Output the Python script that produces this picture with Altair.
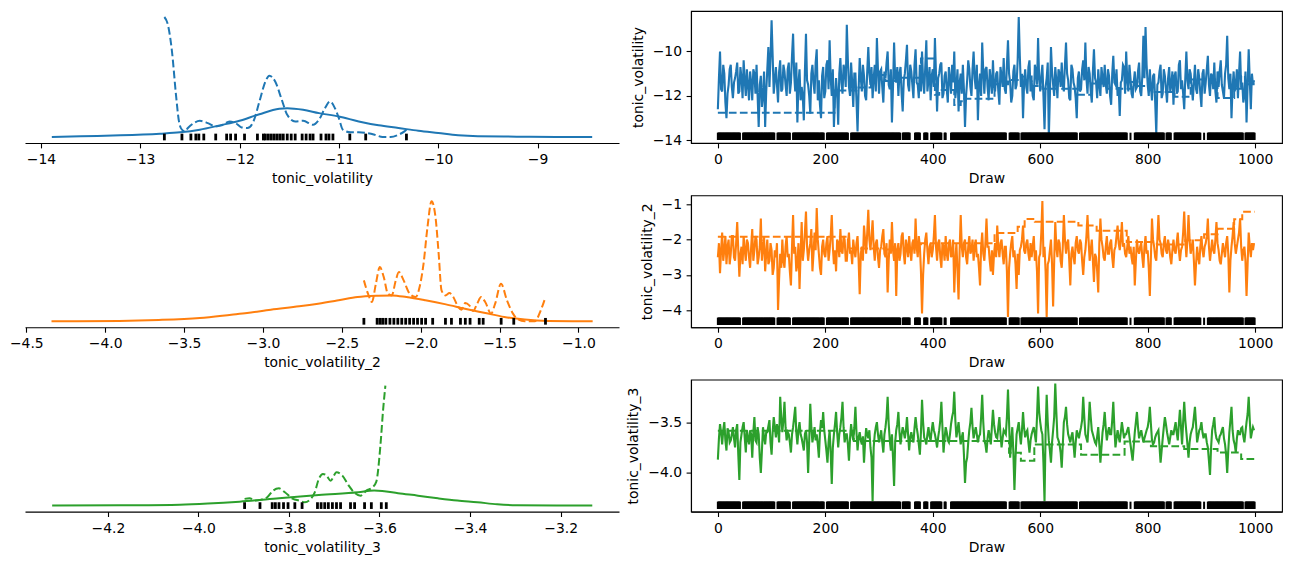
import altair as alt
import pandas as pd

FONT = "DejaVu Sans"
FONT_SIZE = 13.9
COLORS = ["#1f77b4", "#ff7f0e", "#2ca02c"]
VARS = ["tonic_volatility", "tonic_volatility_2", "tonic_volatility_3"]
N_DRAWS = 1000

# ---- chain 0 (solid) trace values at draws 0, 4, 8, ... 996
TRACE_A_EVEN = [
    -12.6, -10.0, -11.8, -11.0, -13.0, -11.5, -10.6, -12.1, -11.2, -10.5,
    -11.8, -11.2, -10.4, -12.0, -11.5, -10.9, -12.2, -11.0, -10.6, -13.4,
    -11.1, -12.0, -13.4, -10.8, -11.6, -8.6, -11.9, -10.7, -12.3, -10.4,
    -11.7, -10.9, -12.0, -10.5, -11.4, -9.2, -11.8, -13.2, -10.8, -11.6,
    -13.1, -9.2, -11.5, -12.8, -10.6, -11.9, -9.9, -11.3, -13.0, -10.7,
    -11.8, -10.4, -9.5, -12.0, -13.4, -11.2, -13.3, -10.3, -11.9, -10.9,
    -8.8, -11.6, -10.5, -12.5, -11.0, -13.6, -10.3, -11.8, -11.1, -12.2,
    -9.8, -11.5, -12.1, -10.6, -9.4, -11.9, -10.8, -12.3, -11.2, -10.0,
    -11.7, -13.2, -9.6, -11.4, -12.0, -10.7, -12.7, -11.0, -9.7, -11.8,
    -10.9, -12.1, -9.9, -11.5, -10.6, -10.0, -11.9, -9.5, -11.3, -12.2,
    -10.8, -9.4, -12.7, -11.0, -10.5, -11.9, -10.9, -12.3, -11.2, -10.6,
    -10.0, -11.6, -12.7, -11.0, -10.6, -13.4, -11.3, -10.8, -12.0, -10.0,
    -11.7, -13.1, -11.0, -9.6, -11.9, -10.7, -12.2, -11.3, -10.4, -11.8,
    -10.9, -12.4, -11.1, -10.3, -11.9, -9.5, -11.4, -12.0, -10.6, -11.5,
    -8.45, -11.6, -13.0, -10.8, -11.9, -10.4, -11.3, -12.2, -10.9, -9.4,
    -11.8, -10.6, -13.5, -11.2, -13.85, -9.8, -11.5, -10.7, -12.1, -11.0,
    -10.5, -11.8, -9.6, -11.3, -12.2, -10.8, -11.6, -13.0, -10.9, -11.7,
    -10.4, -9.6, -11.9, -11.0, -12.3, -9.9, -11.4, -10.8, -12.0, -11.2,
    -10.6, -11.9, -11.1, -12.4, -10.2, -11.5, -12.0, -12.9, -11.3, -10.7,
    -10.0, -11.8, -11.2, -12.1, -10.9, -11.6, -10.5, -12.0, -9.3, -8.9,
    -11.5, -10.8, -12.2, -11.0, -13.7, -11.4, -10.6, -11.9, -11.1, -12.3,
    -10.7, -11.5, -12.4, -10.9, -11.8, -10.4, -11.3, -12.6, -10.0, -11.7,
    -11.0, -12.2, -10.6, -11.9, -11.2, -12.5, -10.8, -11.4, -10.2, -12.0,
    -11.1, -10.5, -12.3, -11.6, -10.4, -11.8, -11.0, -9.3, -11.7, -13.0,
    -10.9, -11.5, -12.1, -10.0, -11.4, -12.0, -13.2, -9.9, -12.6, -11.5,
]
# chain 0 at draws 2, 6, 10, ... 998
TRACE_A_ODD = [
    -11.2, -11.7, -10.6, -12.3, -11.9, -10.8, -11.6, -11.4, -10.9, -11.9,
    -10.7, -12.1, -11.3, -10.8, -12.2, -11.4, -10.8, -11.9, -12.0, -11.5,
    -12.5, -10.9, -11.8, -9.8, -10.3, -10.2, -11.3, -11.5, -10.9, -11.8,
    -10.6, -11.5, -10.8, -11.9, -10.2, -11.0, -10.5, -11.4, -12.2, -12.0,
    -10.9, -11.3, -12.0, -11.0, -11.4, -10.5, -12.2, -12.4, -11.1, -12.1,
    -10.6, -11.7, -11.2, -10.8, -12.1, -11.9, -11.0, -11.4, -10.6, -11.6,
    -10.4, -12.0, -11.4, -11.0, -12.2, -11.7, -11.2, -10.6, -12.0, -10.9,
    -11.0, -10.7, -11.2, -11.8, -10.8, -10.9, -11.6, -10.9, -10.5, -11.5,
    -10.8, -11.6, -11.2, -10.7, -11.0, -11.9, -11.3, -10.4, -11.5, -10.6,
    -11.5, -10.6, -11.4, -12.1, -11.8, -11.3, -10.7, -11.8, -10.7, -11.1,
    -11.6, -11.0, -11.2, -10.6, -12.1, -11.1, -11.7, -10.7, -11.9, -11.4,
    -12.1, -10.8, -11.4, -11.9, -11.7, -12.0, -10.4, -11.6, -10.8, -11.2,
    -10.6, -11.5, -12.0, -10.9, -10.8, -11.6, -10.8, -11.9, -11.6, -11.0,
    -11.8, -10.7, -11.6, -11.7, -10.6, -11.0, -12.3, -10.9, -11.7, -10.4,
    -10.2, -11.0, -11.4, -11.6, -10.7, -11.8, -12.0, -10.6, -11.5, -11.2,
    -11.1, -12.0, -11.6, -10.5, -12.0, -10.9, -12.0, -11.3, -10.8, -11.6,
    -11.5, -10.6, -11.0, -12.1, -10.6, -11.4, -12.1, -11.2, -11.8, -10.8,
    -11.3, -11.2, -10.7, -11.8, -10.9, -11.2, -12.1, -11.5, -10.7, -11.6,
    -11.5, -10.8, -12.0, -11.0, -11.4, -10.8, -11.6, -11.4, -10.6, -11.9,
    -11.3, -10.6, -11.9, -11.4, -11.7, -10.9, -11.8, -11.1, -11.2, -10.6,
    -12.0, -11.6, -11.1, -12.3, -11.5, -10.9, -12.1, -10.8, -11.7, -11.2,
    -11.8, -10.9, -11.1, -11.9, -10.6, -11.7, -11.9, -11.2, -11.3, -10.8,
    -11.6, -11.4, -11.7, -10.8, -11.9, -11.0, -11.9, -10.8, -11.5, -11.0,
    -11.7, -11.8, -10.9, -10.9, -11.5, -12.1, -10.6, -11.2, -11.0, -11.6,
    -11.8, -10.8, -11.0, -11.6, -12.3, -10.9, -11.5, -11.3, -11.0, -11.3,
]
TRACE_B_EVEN = [
    -2.5, -2.95, -1.8, -2.3, -2.7, -2.0, -2.4, -1.9, -2.6, -1.5,
    -3.05, -2.2, -1.9, -2.6, -2.1, -2.8, -1.7, -2.3, -2.0, -2.5,
    -1.4, -2.2, -2.9, -2.0, -2.6, -2.3, -2.8, -2.5, -4.0, -2.4,
    -2.0, -2.8, -1.9, -2.4, -3.3, -1.3, -2.2, -2.7, -3.4, -1.5,
    -2.3, -1.2, -2.6, -2.1, -2.9, -1.8, -1.1, -2.4, -3.0, -2.0,
    -2.5, -1.9, -2.3, -1.3, -2.7, -2.9, -2.1, -1.7, -2.4, -2.0,
    -2.6, -1.8, -2.3, -2.0, -2.5, -1.9, -3.55, -2.2, -1.6, -2.4,
    -1.15, -2.3, -1.45, -2.6, -2.0, -2.8, -2.2, -1.7, -2.5, -3.5,
    -2.0, -1.5, -2.6, -3.6, -2.1, -2.4, -1.8, -2.7, -2.2, -1.9,
    -2.6, -2.0, -1.4, -2.5, -2.2, -4.1, -2.4, -1.8, -2.7, -2.1,
    -2.3, -1.3, -2.6, -2.0, -2.8, -2.2, -1.9, -2.6, -2.0, -2.4,
    -3.5, -2.1, -3.7, -1.3, -2.5, -2.0, -2.7, -1.9, -2.3, -2.6,
    -2.0, -2.4, -3.3, -1.8, -2.6, -1.4, -2.2, -2.9, -3.0, -2.1,
    -1.6, -2.5, -2.0, -2.7, -2.2, -4.2, -2.4, -1.9, -2.3, -3.4,
    -3.0, -2.2, -1.6, -2.4, -2.0, -2.6, -2.5, -1.9, -2.3, -4.1,
    -2.4, -0.9, -2.2, -4.2, -2.6, -2.0, -3.9, -1.5, -2.5, -2.1,
    -2.8, -1.3, -2.4, -2.0, -3.3, -2.2, -2.7, -1.9, -2.4, -2.1,
    -3.0, -2.3, -1.3, -2.6, -2.0, -3.2, -2.5, -3.5, -1.4, -2.2,
    -2.6, -1.9, -2.4, -2.0, -2.8, -2.2, -1.6, -2.3, -1.5, -2.1,
    -2.5, -1.9, -2.2, -2.7, -3.3, -2.0, -2.4, -2.1, -2.8, -1.9,
    -2.3, -3.6, -1.4, -2.2, -2.6, -1.3, -2.1, -2.5, -1.9, -2.4,
    -2.2, -2.7, -2.0, -2.4, -1.8, -2.6, -2.2, -1.2, -2.5, -1.3,
    -2.4, -2.0, -3.3, -2.2, -2.7, -1.9, -2.5, -2.1, -1.4, -2.6,
    -2.0, -2.4, -1.5, -2.3, -2.7, -2.1, -2.5, -1.9, -3.5, -2.2,
    -1.5, -2.4, -2.0, -1.4, -2.6, -2.2, -3.6, -1.8, -2.5, -2.3,
]
TRACE_B_ODD = [
    -2.1, -2.3, -2.6, -1.9, -2.2, -2.7, -1.9, -2.5, -2.1, -2.3,
    -2.4, -2.7, -2.3, -2.0, -2.5, -2.2, -2.6, -1.9, -2.7, -2.2,
    -2.6, -1.9, -2.4, -2.7, -2.1, -3.0, -2.3, -2.1, -3.1, -2.8,
    -2.6, -2.2, -2.5, -2.9, -2.2, -2.4, -2.9, -2.1, -2.4, -2.6,
    -1.8, -2.2, -2.3, -1.7, -2.4, -2.3, -2.0, -2.8, -2.2, -2.4,
    -2.1, -2.6, -1.9, -2.2, -2.3, -2.0, -2.5, -2.3, -1.9, -2.6,
    -2.1, -2.4, -2.7, -2.3, -2.1, -2.6, -2.4, -2.6, -2.0, -1.8,
    -2.0, -1.9, -2.2, -2.1, -2.5, -2.3, -1.9, -2.4, -2.1, -2.6,
    -2.4, -2.3, -2.1, -2.3, -2.6, -1.9, -2.4, -2.0, -2.5, -2.3,
    -2.1, -2.4, -2.2, -1.9, -2.9, -3.0, -2.0, -2.3, -2.2, -2.5,
    -1.9, -2.2, -2.1, -2.5, -2.1, -2.6, -2.4, -2.1, -2.5, -2.0,
    -2.6, -2.9, -2.3, -2.2, -2.1, -2.5, -2.2, -2.4, -2.0, -2.2,
    -2.5, -2.8, -2.2, -2.4, -2.1, -2.2, -2.6, -2.3, -2.4, -2.5,
    -2.2, -2.1, -2.4, -2.2, -2.9, -2.8, -2.1, -2.5, -2.7, -2.4,
    -2.3, -2.0, -2.3, -2.1, -2.4, -2.1, -2.2, -2.6, -2.9, -2.5,
    -1.8, -2.5, -2.9, -2.7, -2.3, -2.7, -2.6, -2.2, -2.0, -2.6,
    -2.2, -2.0, -2.1, -2.6, -2.4, -2.5, -2.1, -2.3, -2.0, -2.6,
    -2.5, -1.9, -2.0, -2.3, -2.6, -2.4, -2.9, -2.1, -2.0, -2.5,
    -2.2, -2.4, -2.1, -2.5, -2.3, -1.9, -2.1, -2.0, -2.2, -2.4,
    -2.2, -2.4, -2.5, -2.2, -2.6, -2.3, -2.2, -2.5, -2.2, -2.4,
    -2.8, -2.5, -2.0, -2.5, -2.0, -2.0, -2.4, -2.1, -2.3, -2.0,
    -2.5, -2.3, -2.3, -2.1, -2.3, -2.3, -1.8, -2.0, -2.0, -2.0,
    -2.2, -2.6, -2.7, -2.5, -2.2, -2.3, -2.2, -1.9, -2.2, -2.3,
    -2.3, -2.0, -2.1, -2.6, -2.4, -2.3, -2.1, -2.4, -2.6, -1.9,
    -2.1, -2.2, -1.8, -2.2, -2.3, -2.6, -2.7, -2.2, -2.1, -2.1,
]
TRACE_C_EVEN = [
    -3.87, -3.52, -3.72, -3.50, -3.78, -3.60, -3.68, -3.55, -3.75, -3.52,
    -4.07, -3.62, -3.50, -3.80, -3.66, -3.58, -3.85, -3.45, -3.70, -3.62,
    -4.00, -3.55, -3.72, -3.60, -3.48, -3.82, -3.45, -3.65, -3.58, -3.25,
    -3.60, -3.30, -3.68, -3.62, -3.80, -3.55, -3.35, -3.72, -3.50, -3.66,
    -3.78, -3.58, -4.00, -3.32, -3.70, -3.55, -3.62, -3.85, -3.48, -3.40,
    -3.68, -3.90, -3.58, -4.11, -3.62, -3.40, -3.75, -3.55, -3.30, -3.70,
    -3.62, -3.88, -3.52, -3.68, -3.35, -3.78, -3.60, -3.72, -3.90, -3.56,
    -3.66, -3.75, -4.28, -3.62, -3.50, -3.70, -3.58, -3.80, -3.55, -3.25,
    -3.68, -3.62, -4.13, -3.58, -3.40, -3.72, -3.55, -3.66, -3.45, -3.78,
    -3.60, -3.70, -3.45, -3.62, -3.82, -3.28, -3.65, -3.72, -3.55, -3.68,
    -3.50, -3.62, -3.75, -3.58, -3.30, -3.80, -3.55, -3.68, -3.62, -3.45,
    -3.20, -3.65, -3.50, -3.72, -3.60, -4.10, -3.85, -3.58, -3.36, -3.66,
    -3.55, -3.70, -3.62, -3.23, -3.68, -3.80, -3.58, -3.72, -3.38, -3.60,
    -3.66, -3.45, -3.75, -3.58, -3.62, -3.18, -3.85, -3.55, -4.17, -3.62,
    -3.50, -3.72, -3.40, -3.65, -3.58, -3.80, -3.62, -3.55, -3.70, -3.15,
    -3.50, -3.62, -4.28, -3.23, -3.68, -3.90, -3.58, -3.12, -3.65, -3.72,
    -3.95, -3.50, -3.35, -3.62, -3.70, -3.60, -3.85, -3.58, -3.66, -3.55,
    -3.25, -3.62, -3.70, -3.30, -3.58, -3.66, -3.72, -3.55, -3.90, -3.60,
    -3.40, -3.68, -3.55, -3.62, -3.30, -3.75, -3.58, -3.70, -3.50, -3.66,
    -3.62, -3.55, -3.72, -3.88, -3.60, -3.40, -3.66, -3.58, -3.70, -3.62,
    -3.55, -3.35, -3.68, -3.70, -3.62, -3.58, -3.90, -3.66, -3.45, -3.60,
    -3.72, -3.58, -3.62, -3.50, -3.68, -3.38, -3.72, -3.30, -3.60, -3.85,
    -3.62, -3.55, -3.35, -3.70, -3.58, -3.50, -3.66, -3.62, -3.75, -4.02,
    -3.58, -3.45, -3.66, -3.70, -3.62, -3.55, -3.72, -4.00, -3.60, -3.35,
    -3.68, -3.80, -3.58, -3.62, -3.55, -3.70, -3.50, -3.25, -3.66, -3.55,
]
TRACE_C_ODD = [
    -3.66, -3.60, -3.58, -3.68, -3.56, -3.70, -3.62, -3.66, -3.58, -3.82,
    -3.70, -3.55, -3.65, -3.58, -3.72, -3.62, -3.60, -3.68, -3.55, -3.85,
    -3.78, -3.65, -3.60, -3.54, -3.70, -3.60, -3.55, -3.52, -3.70, -3.45,
    -3.48, -3.55, -3.60, -3.70, -3.62, -3.45, -3.60, -3.58, -3.62, -3.72,
    -3.62, -3.70, -3.68, -3.55, -3.62, -3.68, -3.72, -3.60, -3.56, -3.58,
    -3.78, -3.70, -3.80, -3.75, -3.52, -3.60, -3.62, -3.45, -3.55, -3.62,
    -3.72, -3.66, -3.62, -3.55, -3.60, -3.65, -3.68, -3.64, -3.70, -3.62,
    -3.58, -3.85, -3.75, -3.55, -3.62, -3.64, -3.70, -3.62, -3.45, -3.52,
    -3.78, -3.85, -3.70, -3.52, -3.60, -3.62, -3.60, -3.58, -3.62, -3.65,
    -3.66, -3.56, -3.55, -3.72, -3.60, -3.50, -3.68, -3.62, -3.64, -3.58,
    -3.58, -3.68, -3.65, -3.48, -3.55, -3.66, -3.60, -3.70, -3.52, -3.40,
    -3.48, -3.58, -3.62, -3.65, -3.82, -3.90, -3.70, -3.50, -3.54, -3.60,
    -3.62, -3.64, -3.45, -3.50, -3.72, -3.66, -3.64, -3.55, -3.52, -3.65,
    -3.55, -3.62, -3.66, -3.60, -3.45, -3.50, -3.70, -3.80, -3.85, -3.56,
    -3.62, -3.58, -3.56, -3.60, -3.70, -3.68, -3.58, -3.62, -3.45, -3.40,
    -3.58, -3.90, -3.60, -3.50, -3.78, -3.70, -3.45, -3.40, -3.68, -3.80,
    -3.72, -3.45, -3.52, -3.66, -3.64, -3.72, -3.70, -3.62, -3.60, -3.48,
    -3.45, -3.66, -3.52, -3.45, -3.62, -3.70, -3.64, -3.72, -3.75, -3.52,
    -3.56, -3.60, -3.62, -3.48, -3.55, -3.66, -3.65, -3.60, -3.58, -3.62,
    -3.58, -3.64, -3.80, -3.74, -3.50, -3.55, -3.62, -3.64, -3.66, -3.58,
    -3.48, -3.52, -3.72, -3.65, -3.60, -3.74, -3.78, -3.55, -3.52, -3.66,
    -3.65, -3.62, -3.56, -3.60, -3.52, -3.55, -3.50, -3.48, -3.72, -3.70,
    -3.58, -3.45, -3.52, -3.64, -3.56, -3.60, -3.62, -3.70, -3.88, -3.75,
    -3.52, -3.60, -3.68, -3.64, -3.58, -3.66, -3.82, -3.78, -3.48, -3.58,
    -3.72, -3.66, -3.62, -3.56, -3.64, -3.60, -3.42, -3.48, -3.60, -3.58,
]

# ---- chain 1 (dashed) is stuck: value held from each start draw to the next
STUCK_DRAWS_A = [0, 217, 258, 285, 312, 340, 378, 404, 412, 440, 452, 459, 515, 540,
                 567, 584, 604, 670, 695, 725, 770, 781, 806, 850, 880, 930, 961, 974,
                 981, 999]
STUCK_VALUES_A = [-12.76, -11.76, -11.62, -11.06, -11.33, -11.18, -10.32, -11.95, -11.74,
                  -12.41, -12.24, -12.13, -11.48, -11.29, -11.13, -11.56, -11.68, -11.95,
                  -11.44, -11.68, -11.37, -11.56, -11.82, -12.04, -11.26, -12.09, -11.68,
                  -11.10, -11.48, -11.48]
STUCK_DRAWS_B = [0, 242, 310, 366, 378, 515, 558, 571, 590, 671, 705, 761, 817, 870,
                 905, 930, 961, 976, 999]
STUCK_VALUES_B = [-1.92, -2.25, -2.28, -2.19, -2.10, -1.81, -1.63, -1.41, -1.49, -1.60,
                  -1.75, -2.07, -2.14, -2.02, -1.85, -1.69, -1.42, -1.21, -1.21]
STUCK_DRAWS_C = [0, 253, 542, 564, 589, 676, 757, 806, 868, 930, 974, 999]
STUCK_VALUES_C = [-3.585, -3.686, -3.802, -3.880, -3.721, -3.822, -3.690, -3.737, -3.764,
                  -3.800, -3.864, -3.864]

# ---- draws without a divergence (all other draws diverged)
GAP_STARTS = [42, 106, 135, 198, 243, 340, 358, 377, 391, 417, 425, 537, 561, 669,
              762, 769, 831, 844, 899, 906, 978]
GAP_LENGTHS = [5, 5, 5, 5, 5, 4, 9, 7, 6, 5, 9, 6, 4, 5, 6, 7, 4, 6, 6, 6, 4]

# ---- marginal densities (relative height, tallest curve of each panel = 1)
KDE_A_SOLID_X = [-13.89, -13.60, -13.20, -12.80, -12.60, -12.40, -12.20, -12.00, -11.80,
                 -11.60, -11.52, -11.36, -11.20, -11.00, -10.80, -10.60, -10.40, -10.20,
                 -10.00, -9.80, -9.60, -9.21, -8.81, -8.45]
KDE_A_SOLID_Y = [0.0, 0.006, 0.014, 0.028, 0.039, 0.061, 0.097, 0.135, 0.19, 0.235, 0.24,
                 0.227, 0.199, 0.171, 0.13, 0.097, 0.075, 0.052, 0.033, 0.014, 0.006,
                 0.003, 0.0, 0.0]
KDE_A_DASH_X = [-12.757, -12.72, -12.68, -12.64, -12.61, -12.58, -12.55, -12.52, -12.46,
                -12.40, -12.32, -12.24, -12.18, -12.10, -12.04, -11.98, -11.92, -11.86,
                -11.80, -11.74, -11.70, -11.64, -11.58, -11.52, -11.44, -11.36, -11.26,
                -11.20, -11.14, -11.09, -11.04, -11.00, -10.96, -10.88, -10.80, -10.72,
                -10.64, -10.56, -10.48, -10.40, -10.34, -10.32]
KDE_A_DASH_Y = [1.0, 0.931, 0.71, 0.351, 0.13, 0.061, 0.047, 0.075, 0.116, 0.135, 0.116,
                0.088, 0.097, 0.13, 0.116, 0.08, 0.075, 0.13, 0.296, 0.461, 0.511, 0.461,
                0.323, 0.185, 0.13, 0.135, 0.102, 0.144, 0.24, 0.296, 0.24, 0.157, 0.061,
                0.039, 0.039, 0.033, 0.019, 0.0, 0.0, 0.019, 0.047, 0.061]
KDE_B_SOLID_X = [-4.34, -3.91, -3.66, -3.40, -3.20, -3.10, -2.95, -2.77, -2.65, -2.52,
                 -2.40, -2.27, -2.18, -2.09, -1.97, -1.84, -1.72, -1.59, -1.47, -1.34,
                 -1.19, -0.91]
KDE_B_SOLID_Y = [0.0, 0.003, 0.011, 0.028, 0.055, 0.069, 0.097, 0.125, 0.147, 0.175,
                 0.202, 0.213, 0.216, 0.202, 0.175, 0.141, 0.105, 0.069, 0.036, 0.014,
                 0.003, 0.0]
KDE_B_DASH_X = [-2.36, -2.334, -2.309, -2.284, -2.259, -2.234, -2.208, -2.183, -2.158,
                -2.138, -2.108, -2.07, -2.032, -2.007, -1.982, -1.957, -1.931, -1.906,
                -1.886, -1.868, -1.843, -1.818, -1.793, -1.768, -1.742, -1.717, -1.692,
                -1.667, -1.642, -1.617, -1.591, -1.554, -1.528, -1.491, -1.453, -1.415,
                -1.39, -1.34, -1.277, -1.239, -1.209]
KDE_B_DASH_Y = [0.341, 0.23, 0.161, 0.313, 0.452, 0.368, 0.23, 0.216, 0.341, 0.41, 0.341,
                0.23, 0.202, 0.285, 0.479, 0.784, 1.0, 0.867, 0.562, 0.258, 0.216, 0.235,
                0.202, 0.133, 0.097, 0.152, 0.133, 0.086, 0.147, 0.202, 0.161, 0.064,
                0.147, 0.313, 0.175, 0.064, 0.022, 0.0, 0.0, 0.091, 0.202]
KDE_C_SOLID_X = [-4.323, -4.172, -4.041, -3.979, -3.909, -3.822, -3.734, -3.647, -3.612,
                 -3.594, -3.559, -3.515, -3.471, -3.428, -3.384, -3.34, -3.296, -3.209,
                 -3.13]
KDE_C_SOLID_Y = [0.0, 0.003, 0.008, 0.017, 0.033, 0.061, 0.089, 0.111, 0.125, 0.122,
                 0.103, 0.083, 0.061, 0.042, 0.028, 0.011, 0.003, 0.0, 0.0]
KDE_C_DASH_X = [-3.898, -3.887, -3.874, -3.861, -3.848, -3.835, -3.822, -3.809, -3.791,
                -3.778, -3.765, -3.752, -3.743, -3.734, -3.725, -3.717, -3.708, -3.695,
                -3.682, -3.668, -3.655, -3.642, -3.629, -3.616, -3.607, -3.598, -3.592,
                -3.587]
KDE_C_DASH_Y = [0.056, 0.061, 0.042, 0.05, 0.069, 0.125, 0.144, 0.111, 0.056, 0.042,
                0.028, 0.056, 0.111, 0.222, 0.264, 0.25, 0.208, 0.278, 0.25, 0.167,
                0.106, 0.083, 0.125, 0.15, 0.2, 0.5, 0.8, 1.0]

# ---- values of the divergent draws (rug under the densities)
RUG_A = [-12.757, -12.58, -12.49, -12.44, -12.41, -12.36, -12.24, -12.13, -12.09, -12.04,
         -11.95, -11.82, -11.76, -11.74, -11.71, -11.68, -11.65, -11.62, -11.59, -11.56,
         -11.52, -11.48, -11.44, -11.37, -11.33, -11.29, -11.26, -11.18, -11.13, -11.10,
         -11.06, -10.89, -10.73, -10.32]
RUG_B = [-2.36, -2.276, -2.258, -2.241, -2.221, -2.195, -2.17, -2.145, -2.12, -2.095,
         -2.07, -2.045, -2.02, -1.994, -1.969, -1.924, -1.843, -1.805, -1.748, -1.717,
         -1.687, -1.629, -1.604, -1.49, -1.41, -1.209]
RUG_C = [-3.898, -3.864, -3.837, -3.83, -3.822, -3.812, -3.802, -3.787, -3.771, -3.737,
         -3.729, -3.721, -3.713, -3.704, -3.695, -3.686, -3.664, -3.655, -3.633, -3.618,
         -3.596, -3.585]

# ---- axis settings
KDE_DOMAINS = [[-14.16, -8.18], [-4.508, -0.743], [-4.383, -3.071]]
KDE_TICKS = [[-14, -13, -12, -11, -10, -9],
             [-4.5, -4.0, -3.5, -3.0, -2.5, -2.0, -1.5, -1.0],
             [-4.2, -4.0, -3.8, -3.6, -3.4, -3.2]]
KDE_FORMATS = ["d", ".1f", ".1f"]
TRACE_DOMAINS = [[-14.12, -8.18], [-4.49, -0.74], [-4.382, -3.081]]
TRACE_TICKS = [[-14, -12, -10], [-4, -3, -2, -1], [-4.0, -3.5]]
TRACE_FORMATS = ["d", "d", ".1f"]
DIVERGENCE_LEVEL = [-13.82, -4.32, -4.32]

TRACES = [(TRACE_A_EVEN, TRACE_A_ODD), (TRACE_B_EVEN, TRACE_B_ODD),
          (TRACE_C_EVEN, TRACE_C_ODD)]
STUCK_DRAWS = [STUCK_DRAWS_A, STUCK_DRAWS_B, STUCK_DRAWS_C]
STUCK_VALUES = [STUCK_VALUES_A, STUCK_VALUES_B, STUCK_VALUES_C]
KDE_SOLID = [(KDE_A_SOLID_X, KDE_A_SOLID_Y), (KDE_B_SOLID_X, KDE_B_SOLID_Y),
             (KDE_C_SOLID_X, KDE_C_SOLID_Y)]
KDE_DASH = [(KDE_A_DASH_X, KDE_A_DASH_Y), (KDE_B_DASH_X, KDE_B_DASH_Y),
            (KDE_C_DASH_X, KDE_C_DASH_Y)]
RUGS = [RUG_A, RUG_B, RUG_C]

DASH = [7.7, 3.3]
LEFT_W, RIGHT_W, PANEL_H = 594, 591, 132

non_divergent = set()
for start, length in zip(GAP_STARTS, GAP_LENGTHS):
    non_divergent.update(range(start, start + length))
divergent_draws = [d for d in range(N_DRAWS) if d not in non_divergent]


def chain0_frame(i):
    even, odd = TRACES[i]
    rows = [(4 * k, v) for k, v in enumerate(even)] + [(4 * k + 2, v) for k, v in enumerate(odd)]
    rows.sort()
    return pd.DataFrame(rows, columns=["draw", "value"])


def kde_panel(i):
    color = COLORS[i]
    xs = alt.Scale(domain=KDE_DOMAINS[i], nice=False, zero=False)
    ys = alt.Scale(domain=[-0.05, 1.05], nice=False, zero=False)
    x_enc = alt.X("value:Q", scale=xs,
                  axis=alt.Axis(values=KDE_TICKS[i], format=KDE_FORMATS[i], title=VARS[i]))
    y_enc = alt.Y("density:Q", scale=ys, axis=None)
    sx, sy = KDE_SOLID[i]
    dx, dy = KDE_DASH[i]
    solid = alt.Chart(pd.DataFrame({"value": sx, "density": sy})).mark_line(
        color=color, strokeWidth=2, interpolate="monotone").encode(x=x_enc, y=y_enc)
    dashed = alt.Chart(pd.DataFrame({"value": dx, "density": dy})).mark_line(
        color=color, strokeWidth=2, interpolate="monotone", strokeDash=DASH
    ).encode(x=x_enc, y=y_enc)
    rug = alt.Chart(pd.DataFrame({"value": RUGS[i]})).mark_tick(
        color="black", thickness=2.8, size=6.7, orient="vertical", opacity=1
    ).encode(x=x_enc, y=alt.YDatum(0, type="quantitative", scale=ys, axis=None))
    return alt.layer(solid, dashed, rug).properties(width=LEFT_W, height=PANEL_H)


def trace_panel(i):
    color = COLORS[i]
    xs = alt.Scale(domain=[-50, 1050], nice=False, zero=False)
    ys = alt.Scale(domain=TRACE_DOMAINS[i], nice=False, zero=False)
    x_enc = alt.X("draw:Q", scale=xs,
                  axis=alt.Axis(values=list(range(0, 1001, 200)), format="d", title="Draw"))
    y_enc = alt.Y("value:Q", scale=ys,
                  axis=alt.Axis(values=TRACE_TICKS[i], format=TRACE_FORMATS[i], title=VARS[i],
                                titlePadding=7))
    chain0 = alt.Chart(chain0_frame(i)).mark_line(
        color=color, strokeWidth=2.1).encode(x=x_enc, y=y_enc)
    chain1 = alt.Chart(pd.DataFrame({"draw": STUCK_DRAWS[i], "value": STUCK_VALUES[i]})).mark_line(
        color=color, strokeWidth=2.0, strokeDash=DASH, interpolate="step-after"
    ).encode(x=x_enc, y=y_enc)
    div = alt.Chart(pd.DataFrame({"draw": divergent_draws})).mark_tick(
        color="black", thickness=2, size=7.3, orient="vertical", opacity=1
    ).encode(x=x_enc, y=alt.YDatum(DIVERGENCE_LEVEL[i], type="quantitative"))
    return alt.layer(chain0, chain1, div).properties(
        width=RIGHT_W, height=PANEL_H,
        view=alt.ViewBackground(stroke="black", strokeWidth=1.1))


chart = alt.hconcat(
    alt.vconcat(*[kde_panel(i) for i in range(3)], spacing=52.3, bounds="flush"),
    alt.vconcat(*[trace_panel(i) for i in range(3)], spacing=52.3, bounds="flush"),
    spacing=7.0,
).properties(
    padding={"left": 9.0, "top": 10, "right": 5, "bottom": 5},
    background="white",
).configure(font=FONT).configure_view(strokeWidth=0).configure_axis(
    domainColor="black", domainWidth=1.1, tickColor="black", tickWidth=1.1, tickSize=4.9,
    labelFont=FONT, labelFontSize=FONT_SIZE, labelColor="black", labelPadding=4.6,
    labelFlush=False, titleFont=FONT, titleFontSize=FONT_SIZE, titleFontWeight="normal",
    titleColor="black", titlePadding=5, grid=False,
)

chart.save("out.html", embed_options={"renderer": "svg", "actions": False})
